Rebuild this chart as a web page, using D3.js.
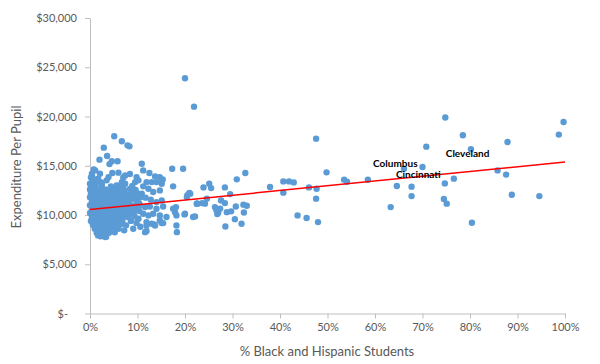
<!DOCTYPE html>
<html><head><meta charset="utf-8">
<script src="https://cdn.jsdelivr.net/npm/d3@7"></script>
<style>body{margin:0;background:#fff} text{font-family:Lato,"Liberation Sans",sans-serif}</style>
</head><body><svg id="c" width="600" height="364"></svg>
<script>
const xTicks = [0,10,20,30,40,50,60,70,80,90,100];
const yTicks = [0,5000,10000,15000,20000,25000,30000];
const xTitle = "% Black and Hispanic Students";
const yTitle = "Expenditure Per Pupil";

// dense group of districts with few Black and Hispanic students: [percent, dollars]
const denseGroup = [
[0.3,13050],[1.2,12950],[2.5,13100],[4.4,12900],[5.6,13000],[7.0,12850],[8.9,12950],
[0,12600],[0.8,12650],[1.6,12550],[2.4,12700],[3.2,12600],[4.0,12550],[5.2,12650],[6.0,12600],[7.2,12500],[8.4,12650],[9.6,12550],
[0.2,12200],[1.0,12250],[1.8,12150],[2.6,12200],[3.4,12300],[4.2,12200],[5.0,12150],[5.8,12250],[6.6,12200],[7.6,12100],[8.8,12250],[10.2,12150],
[0,11800],[0.8,11850],[1.6,11750],[2.4,11800],[3.2,11850],[4.0,11750],[4.8,11800],[5.6,11850],[6.4,11750],[7.2,11800],[8.0,11850],[9.2,11700],[10.6,11800],
[0.4,11400],[1.2,11450],[2.0,11350],[2.8,11400],[3.6,11450],[4.4,11350],[5.2,11400],[6.0,11450],[6.8,11350],[7.6,11400],[8.4,11450],[9.8,11350],
[0,11000],[0.8,11050],[1.6,10950],[2.4,11000],[3.2,11050],[4.0,10950],[4.8,11000],[5.6,11050],[6.4,10950],[7.2,11000],[8.2,11050],[9.0,10900],[10.4,11000],
[0.4,10600],[1.2,10650],[2.0,10550],[2.8,10600],[3.6,10650],[4.4,10550],[5.2,10600],[6.0,10650],[6.8,10550],[7.6,10600],[8.6,10650],[9.6,10550],
[0,10200],[0.8,10250],[1.6,10150],[2.4,10200],[3.2,10250],[4.0,10150],[4.8,10200],[5.6,10250],[6.4,10150],[7.4,10200],[8.2,10250],[9.2,10150],
[0.4,9800],[1.2,9850],[2.0,9750],[2.8,9800],[3.6,9850],[4.4,9750],[5.2,9800],[6.0,9850],[7.0,9750],[8.0,9800],[9.4,9850],
[0.2,9400],[1.0,9450],[1.8,9350],[2.6,9400],[3.4,9450],[4.2,9350],[5.0,9400],[5.8,9450],[6.8,9350],[8.6,9400],
[0.6,9000],[1.4,9050],[2.2,8950],[3.0,9000],[3.8,9050],[4.6,8950],[5.4,9000],[6.4,9050],[7.6,8950],
[1.0,8600],[1.8,8650],[2.6,8550],[3.4,8600],[4.2,8650],[5.0,8550],[6.0,8600],
[1.4,8200],[2.4,8250],[3.2,8150],[4.0,8200],[5.2,8250],[7.2,8440],
[2.2,7850],[3.4,7800],[1.7,7930],[3.2,7760],
[0.6,13500],[1.4,13400],[0.2,13800],[1.1,14530],[2.4,13300],[9.0,12600],[9.6,12000],[10.0,11400],[9.8,10800],[10.4,10400],[9.2,10000],[9.8,9200],[10.6,8800]
];

// scattered districts: [percent, dollars]
const scattered = [
[5.1,17990],[6.7,17480],[7.9,17070],[8.3,16970],[2.9,16840],[3.6,15990],[2.0,15620],[4.6,15450],[4.1,15170],[5.8,15450],
[10.9,15210],[0.8,14630],[0.4,14200],[0.5,13850],[0,13180],[4.7,14260],[6.0,14300],[7.4,14020],[8.4,14170],[9.8,13850],
[9.5,13340],[10.2,13520],[2.1,14200],[3.9,13850],[3.5,13520],[1.7,13690],[6.7,13340],[7.4,13180],[6.3,13010],[7.0,13790],
[11.2,14530],[12.5,14260],[13.7,13920],[15.3,13620],[14.7,13850],[11.9,13340],[13.0,13340],[14.0,13340],[15.1,13180],[15.2,13520],
[11.2,12910],[12.3,12670],[13.3,12330],[14.7,12500],[10.9,12170],[11.7,11760],[12.8,11560],[14.0,11310],[15.1,11480],[17.5,12910],
[10.4,11150],[11.6,10800],[12.6,10870],[14.0,10640],[15.4,10870],[20.4,11820],[22.5,11150],[11.2,10130],[12.3,9960],[13.3,10130],
[14.7,9960],[16.1,9790],[10.2,9620],[11.9,9280],[13.0,9120],[14.7,9450],[17.5,10640],[18.2,9960],[21.7,9790],[20.0,10130],
[11.9,8940],[13.7,8940],[15.1,9180],[18.2,8940],[18.3,8260],[11.6,8260],[9.1,8610],[11.9,8370],[13.5,9040],[15.4,9180],
[17.3,14700],[19.6,14700],[20.9,12230],[20.5,12000],[18.1,10800],[17.9,10290],[19.9,10060],[22.6,11150],
[20.0,23880],[21.9,21000],[21.1,12170],
[23.9,12800],[25.1,13180],[25.5,12730],[28.4,12800],[30.9,13620],[32.7,14260],[29.5,12120],[22.5,11150],[23.6,11210],[24.2,11150],
[24.6,11660],[26.3,10800],[26.6,10500],[27.0,10250],[27.4,10650],[26.8,10100],[27.6,11480],[28.4,11210],[28.8,10290],[29.7,10370],
[30.7,10870],[30.5,9580],[32.3,11050],[33.0,10940],[32.4,10260],[31.9,9110],[28.5,8840],[22.1,9860],
[37.9,12840],[40.7,13410],[41.9,13410],[42.9,13310],[40.7,12270],[46.1,12800],[47.7,12670],[47.6,11660],[47.6,17750],[49.8,14330],
[53.5,13590],[54.1,13380],[58.5,13580],[43.7,9960],[45.6,9690],[48.0,9280],
[74.8,19900],[99.7,19440],[98.7,18160],[78.5,18090],[87.9,17410],[70.8,16940],[80.2,16670],[70.0,14870],[66.1,14700],
[85.8,14530],[87.6,14100],[76.6,13690],[74.7,13210],[64.6,12940],[67.7,12880],[67.7,11920],[74.5,11620],[75.1,11150],
[88.8,12060],[94.6,11920],[63.3,10800],[80.4,9220]
];

const trend = [[0,10560],[100,15380]];
const cityNames = ["Columbus","Cincinnati","Cleveland"];
const cityPct = [59.6,64.4,74.9];
const citySpend = [14880,13780,15850];

const svg = d3.select("#c");
const x = d3.scaleLinear().domain([0,100]).range([90,565]);
const y = d3.scaleLinear().domain([0,30000]).range([313.5,18]);
const axisColor = "#BFBFBF", textColor = "#595959";

// y axis
const gy = svg.append("g").attr("transform","translate(90,0)")
  .call(d3.axisLeft(y).tickValues(yTicks).tickSize(5).tickSizeOuter(0).tickPadding(8)
    .tickFormat(d => d === 0 ? "$-" : d3.format("$,")(d)));
gy.selectAll("text").attr("fill",textColor).style("font-size","11px")
  .filter(d => d === 0).attr("dx", -9);

// x axis
const gx = svg.append("g").attr("transform","translate(0,313.5)")
  .call(d3.axisBottom(x).tickValues(xTicks).tickSize(5).tickSizeOuter(0).tickPadding(5)
    .tickFormat(d => d + "%"));
gx.selectAll("text").attr("fill",textColor).style("font-size","11px");

[gx, gy].forEach(g => {
  g.select(".domain").attr("stroke",axisColor);
  g.selectAll(".tick line").attr("stroke",axisColor);
});

// points
const all = denseGroup.concat(scattered);
svg.append("g").selectAll("circle").data(all).join("circle")
  .attr("cx", d => x(d[0])).attr("cy", d => y(d[1])).attr("r", 3.2)
  .attr("fill","#5B9BD5");

// trend line
svg.append("path").datum(trend)
  .attr("d", d3.line().x(d => x(d[0])).y(d => y(d[1])))
  .attr("stroke","#FF0000").attr("stroke-width",1.5).attr("fill","none");

// city labels
svg.append("g").selectAll("text").data(cityNames).join("text")
  .attr("x", (d,i) => x(cityPct[i])).attr("y", (d,i) => y(citySpend[i]))
  .text(d => d).attr("fill","#000").style("font-size","10px").style("font-weight","bold");

// titles
svg.append("text").attr("x",327).attr("y",356).attr("text-anchor","middle")
  .attr("fill",textColor).style("font-size","13px").text(xTitle);
svg.append("text").attr("transform","translate(21,167) rotate(-90)").attr("text-anchor","middle")
  .attr("fill",textColor).style("font-size","13px").text(yTitle);
</script></body></html>
